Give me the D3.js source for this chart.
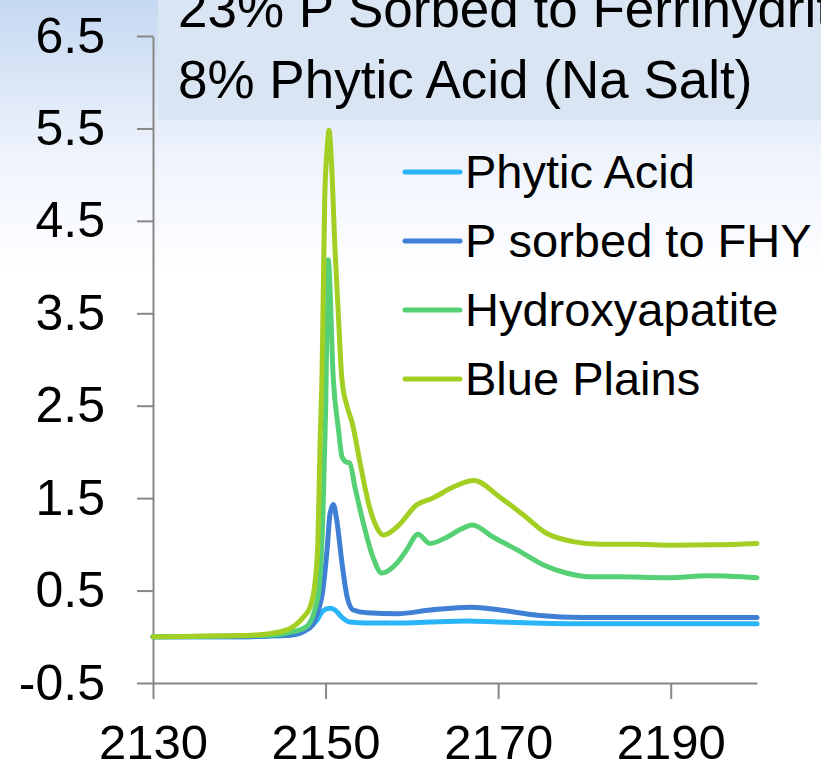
<!DOCTYPE html>
<html>
<head>
<meta charset="utf-8">
<script src="https://cdn.jsdelivr.net/npm/d3@7"></script>
<style>
  html, body { margin: 0; padding: 0; background: #fff; }
  svg { display: block; font-family: "Liberation Sans", Arial, sans-serif; }
  .axis path, .axis line { stroke: #878787; stroke-width: 2; }
</style>
</head>
<body>
<div id="chart"></div>
<script>
// energy (eV) / normalized absorbance pairs
var phyticAcid = [[2130,0],[2140,0],[2144,0.01],[2146,0.02],[2147,0.04],[2148,0.09],[2149,0.18],
  [2149.7,0.28],[2150.5,0.31],[2151.1,0.29],[2151.9,0.21],[2152.8,0.16],[2154.8,0.15],[2158.6,0.15],
  [2162,0.16],[2166.4,0.17],[2170,0.16],[2174,0.15],[2181.8,0.14],[2190,0.14],[2200,0.14]];

var pSorbedFhy = [[2130,0],[2140,0],[2144,0.01],[2146,0.02],[2147.5,0.06],[2148.5,0.13],[2149.2,0.3],
  [2149.6,0.45],[2150.2,0.97],[2150.5,1.32],[2150.9,1.43],[2151.3,1.26],[2151.9,0.8],[2152.5,0.43],
  [2153.2,0.29],[2154.8,0.26],[2158.3,0.25],[2162.2,0.29],[2166.9,0.32],[2170.2,0.29],[2174.8,0.23],
  [2179.8,0.21],[2189.6,0.21],[2200,0.21]];

var hydroxyapatite = [[2130,0],[2140,0.01],[2144,0.02],[2146,0.05],[2147.8,0.11],[2149.1,0.43],
  [2149.7,1.34],[2150,2.42],[2150.3,4.08],[2150.9,2.78],[2151.5,2.24],[2151.9,1.95],[2152.4,1.89],
  [2152.8,1.88],[2153.4,1.62],[2154.3,1.26],[2155.5,0.86],[2156.5,0.69],[2158.3,0.8],[2159.4,0.94],
  [2160.7,1.11],[2162.1,1.01],[2164.1,1.08],[2165.6,1.16],[2167,1.21],[2169.4,1.08],[2172.2,0.94],
  [2175.2,0.78],[2177.9,0.69],[2180.6,0.65],[2183.8,0.65],[2189.6,0.64],[2194.5,0.66],[2200,0.64]];

var bluePlains = [[2130,0],[2138,0.01],[2142,0.02],[2143.9,0.04],[2145.9,0.09],[2147.4,0.21],
  [2148.2,0.32],[2148.8,0.61],[2149.1,1.0],[2149.35,2.05],[2149.6,2.9],[2149.9,4.73],[2150.2,5.3],
  [2150.4,5.48],[2150.7,5.1],[2151.1,4.18],[2151.4,3.64],[2151.9,2.78],[2152.5,2.49],[2153.1,2.31],
  [2154,1.88],[2155.1,1.4],[2155.9,1.19],[2156.7,1.1],[2158.3,1.19],[2160.6,1.43],[2162.4,1.5],
  [2164.8,1.62],[2167.2,1.69],[2170.2,1.51],[2172.9,1.32],[2175.6,1.12],[2178.7,1.03],[2181.8,1.0],
  [2186,1.0],[2190,0.99],[2195,0.995],[2200,1.01]];

var seriesNames = ['Phytic Acid', 'P sorbed to FHY', 'Hydroxyapatite', 'Blue Plains'];
var seriesColors = ['#2bb5f9', '#3f80d5', '#56d074', '#a3cf24'];
var xTicks = [2130, 2150, 2170, 2190];
var yTicks = [-0.5, 0.5, 1.5, 2.5, 3.5, 4.5, 5.5, 6.5];
var titleLines = ['23% P Sorbed to Ferrihydrite', '8% Phytic Acid (Na Salt)'];

var allSeries = [phyticAcid, pSorbedFhy, hydroxyapatite, bluePlains];

var W = 821, H = 770;
var plot = { left: 153, right: 757, top: 36, bottom: 683 };

var x = d3.scaleLinear().domain([2130, 2200]).range([plot.left, plot.right]);
var y = d3.scaleLinear().domain([-0.5, 6.5]).range([plot.bottom, plot.top]);

var svg = d3.select('#chart').append('svg')
  .attr('width', W)
  .attr('height', H);

// soft blue slide background fading to white
var grad = svg.append('defs').append('linearGradient')
  .attr('id', 'bg').attr('x1', 0).attr('y1', 0).attr('x2', 0).attr('y2', 1);
grad.append('stop').attr('offset', '0').attr('stop-color', '#c5d8f1');
grad.append('stop').attr('offset', '0.2').attr('stop-color', '#eef3fc');
grad.append('stop').attr('offset', '0.36').attr('stop-color', '#ffffff');
svg.append('rect').attr('width', W).attr('height', H).attr('fill', 'url(#bg)');

// title box at top
svg.append('rect')
  .attr('x', 158).attr('y', 0)
  .attr('width', W - 158).attr('height', 120)
  .attr('fill', '#dae5f4');

svg.selectAll('.title')
    .data(titleLines)
  .enter().append('text')
    .attr('class', 'title')
    .attr('x', 178)
    .attr('y', function(d, i) { return 27 + i * 71; })
    .style('font-size', '53px')
    .attr('fill', '#000')
    .text(function(d) { return d; });

// axes
var yAxis = d3.axisLeft(y)
  .tickValues(yTicks)
  .tickFormat(function(d) { return d.toFixed(1); })
  .tickSize(16)
  .tickSizeOuter(0)
  .tickPadding(32);

var xAxis = d3.axisBottom(x)
  .tickValues(xTicks)
  .tickFormat(function(d) { return d; })
  .tickSize(16)
  .tickSizeOuter(0)
  .tickPadding(25);

var gy = svg.append('g')
  .attr('class', 'axis')
  .attr('transform', 'translate(' + plot.left + ',0)')
  .call(yAxis);
gy.selectAll('text').style('font-size', '50px').attr('fill', '#000');
gy.attr('font-family', null);

var gx = svg.append('g')
  .attr('class', 'axis')
  .attr('transform', 'translate(0,' + plot.bottom + ')')
  .call(xAxis);
gx.selectAll('text').style('font-size', '49px').attr('fill', '#000');
gx.attr('font-family', null);

// spectra
var line = d3.line()
  .x(function(d) { return x(d[0]); })
  .y(function(d) { return y(d[1]); })
  .curve(d3.curveMonotoneX);

svg.selectAll('.spectrum')
    .data(allSeries)
  .enter().append('path')
    .attr('class', 'spectrum')
    .attr('d', line)
    .attr('fill', 'none')
    .attr('stroke', function(d, i) { return seriesColors[i]; })
    .attr('stroke-width', 5)
    .attr('stroke-linejoin', 'round')
    .attr('stroke-linecap', 'round');

// legend
var legend = svg.selectAll('.legend')
    .data(seriesNames)
  .enter().append('g')
    .attr('class', 'legend')
    .attr('transform', function(d, i) { return 'translate(405,' + (172 + i * 69) + ')'; });

legend.append('line')
  .attr('x1', 0).attr('x2', 55)
  .attr('stroke', function(d, i) { return seriesColors[i]; })
  .attr('stroke-width', 5)
  .attr('stroke-linecap', 'round');

legend.append('text')
  .attr('x', 60)
  .attr('dy', '0.35em')
  .style('font-size', '47px')
  .attr('fill', '#000')
  .text(function(d) { return d; });
</script>
</body>
</html>
